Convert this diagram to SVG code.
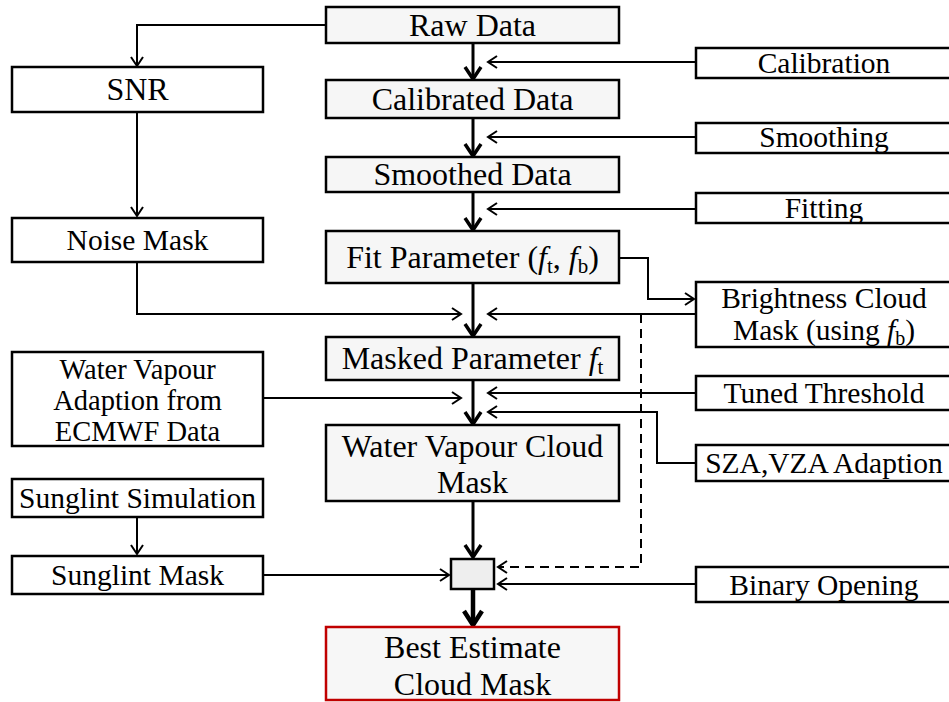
<svg xmlns="http://www.w3.org/2000/svg" width="949" height="702" viewBox="0 0 949 702">
<style>
text{font-family:"Liberation Serif","DejaVu Serif",serif;fill:#000;text-anchor:middle}
.c{font-size:32px}
.s{font-size:29.5px}
.l{font-size:28.5px}
.b{font-size:32px}
.main rect{fill:#f6f6f6;stroke:#000;stroke-width:2.5}
.side rect{fill:#fff;stroke:#000;stroke-width:2.5}
.thin{fill:none;stroke:#000;stroke-width:2;marker-end:url(#ah)}
.thick{fill:none;stroke:#000;stroke-width:3;marker-end:url(#ahT)}
.dash{fill:none;stroke:#000;stroke-width:2;stroke-dasharray:9 6;marker-end:url(#ah)}
</style>
<defs>
<marker id="ah" markerUnits="userSpaceOnUse" markerWidth="1" markerHeight="1" orient="auto" overflow="visible">
<path d="M-9,-6 L0,0 L-9,6" fill="none" stroke="#000" stroke-width="2"/>
</marker>
<marker id="ahT" markerUnits="userSpaceOnUse" markerWidth="1" markerHeight="1" orient="auto" overflow="visible">
<path d="M-12,-8 L0,0 L-12,8" fill="none" stroke="#000" stroke-width="3.5"/>
</marker>
<marker id="ahB" markerUnits="userSpaceOnUse" markerWidth="1" markerHeight="1" orient="auto" overflow="visible">
<path d="M-14,-9 L0,0 L-14,9" fill="none" stroke="#000" stroke-width="4.5"/>
</marker>
</defs>
<g id="connectors">
<path class="thin" d="M326,25 H137 V66"/>
<path class="thin" d="M137,112 V216"/>
<path class="thin" d="M137,262 V314 H461"/>
<path class="thin" d="M263,398 H461"/>
<path class="thin" d="M137,517 V554"/>
<path class="thin" d="M263,575 H449"/>
<path class="thin" d="M696,62 H488"/>
<path class="thin" d="M696,137 H488"/>
<path class="thin" d="M696,209 H488"/>
<path class="thin" d="M619,258 H648 V299 H694"/>
<path class="thin" d="M696,314 H488"/>
<path class="dash" d="M641,314 V567 H498"/>
<path class="thin" d="M696,393 H488"/>
<path class="thin" d="M696,463 H657 V412 H488"/>
<path class="thin" d="M696,584 H498"/>
<path class="thick" d="M473,43 V79"/>
<path class="thick" d="M473,118 V156"/>
<path class="thick" d="M473,192 V230"/>
<path class="thick" d="M473,283 V336"/>
<path class="thick" d="M473,380 V424"/>
<path class="thick" d="M473,501 V557"/>
<path d="M473,589 V625" fill="none" stroke="#000" stroke-width="4.5" marker-end="url(#ahB)"/>
</g>
<g id="raw" class="main"><rect x="326" y="7" width="293" height="36"/><text class="c" x="472.5" y="36">Raw Data</text></g>
<g id="calibrated" class="main"><rect x="326" y="80" width="293" height="38"/><text class="c" x="472.5" y="110">Calibrated Data</text></g>
<g id="smoothed" class="main"><rect x="326" y="157" width="293" height="35"/><text class="c" x="472.5" y="185">Smoothed Data</text></g>
<g id="fit" class="main"><rect x="326" y="231" width="293" height="52"/><text class="c" x="472.5" y="268">Fit Parameter (<tspan font-style="italic">f</tspan><tspan font-size="21" dy="5">t</tspan><tspan dy="-5">, </tspan><tspan font-style="italic">f</tspan><tspan font-size="21" dy="5">b</tspan><tspan dy="-5">)</tspan></text></g>
<g id="masked" class="main"><rect x="326" y="337" width="293" height="43"/><text class="c" x="472.5" y="369">Masked Parameter <tspan font-style="italic">f</tspan><tspan font-size="21" dy="5">t</tspan></text></g>
<g id="wvmask" class="main"><rect x="326" y="425" width="293" height="76"/><text class="c" x="472.5" y="457">Water Vapour Cloud</text><text class="c" x="472.5" y="493">Mask</text></g>
<g id="combine"><rect x="451" y="559" width="43" height="30" fill="#eeeeee" stroke="#000" stroke-width="2.5"/></g>
<g id="best"><rect x="326" y="627" width="293" height="73" fill="#f7f7f7" stroke="#c00000" stroke-width="2.5"/><text class="b" x="472.5" y="658">Best Estimate</text><text class="b" x="472.5" y="695">Cloud Mask</text></g>
<g id="snr" class="side"><rect x="12" y="67" width="251" height="45"/><text class="c" x="137.5" y="100">SNR</text></g>
<g id="noise" class="side"><rect x="12" y="218" width="251" height="44"/><text class="s" x="137.5" y="250">Noise Mask</text></g>
<g id="wvadapt" class="side"><rect x="12" y="352" width="251" height="94"/><text class="l" x="137.5" y="379">Water Vapour</text><text class="l" x="137.5" y="410">Adaption from</text><text class="l" x="137.5" y="441">ECMWF Data</text></g>
<g id="sunsim" class="side"><rect x="12" y="479" width="251" height="38"/><text class="s" x="137.5" y="508">Sunglint Simulation</text></g>
<g id="sunmask" class="side"><rect x="12" y="556" width="251" height="38"/><text class="s" x="137.5" y="585">Sunglint Mask</text></g>
<g id="calibration" class="side"><rect x="696" y="48" width="258" height="30"/><text class="s" x="824" y="73">Calibration</text></g>
<g id="smoothing" class="side"><rect x="696" y="123" width="258" height="30"/><text class="s" x="824" y="147">Smoothing</text></g>
<g id="fitting" class="side"><rect x="696" y="193" width="258" height="30"/><text class="s" x="824" y="218">Fitting</text></g>
<g id="brightness" class="side"><rect x="696" y="282" width="258" height="65"/><text class="s" x="824" y="308">Brightness Cloud</text><text class="s" x="824" y="340">Mask (using <tspan font-style="italic">f</tspan><tspan font-size="20" dy="5">b</tspan><tspan dy="-5">)</tspan></text></g>
<g id="tuned" class="side"><rect x="696" y="376" width="258" height="34"/><text class="s" x="824" y="403">Tuned Threshold</text></g>
<g id="szavza" class="side"><rect x="696" y="445" width="258" height="36"/><text class="s" x="824" y="473">SZA,VZA Adaption</text></g>
<g id="binary" class="side"><rect x="696" y="567" width="258" height="35"/><text class="s" x="824" y="595">Binary Opening</text></g>
</svg>
